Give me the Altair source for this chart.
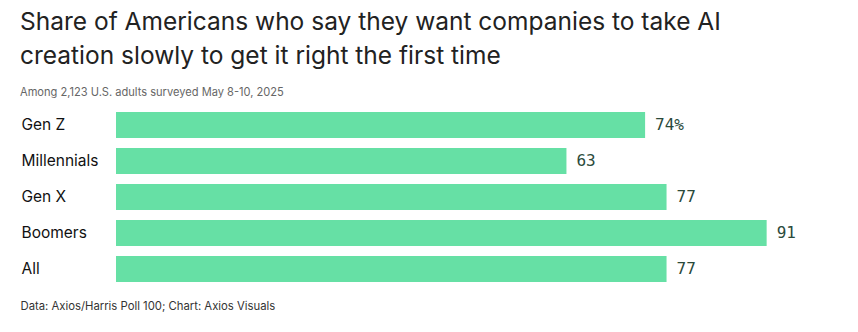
import altair as alt
import pandas as pd

categories = ["Gen Z", "Millennials", "Gen X", "Boomers", "All"]
values = [74, 63, 77, 91, 77]
value_labels = ["74%", "63", "77", "91", "77"]

title_lines = ["Share of Americans who say they want companies to take AI",
               "creation slowly to get it right the first time"]
subtitle = "Among 2,123 U.S. adults surveyed May 8-10, 2025"
footer = "Data: Axios/Harris Poll 100; Chart: Axios Visuals"

df = pd.DataFrame({"cat": categories, "val": values, "lab": value_labels})

W, H = 715, 180

y_enc = alt.Y("cat:N", sort=categories,
              scale=alt.Scale(paddingInner=0.2778, paddingOuter=0.1389),
              axis=alt.Axis(title=None, domain=False, ticks=False, labelAlign="left",
                            labelPadding=95, labelFont="Inter", labelFontSize=15.5,
                            labelColor="#111111", labelBaseline="middle"))
x_enc = alt.X("val:Q", scale=alt.Scale(domain=[0, 100], nice=False, zero=True),
              axis=alt.Axis(title=footer, grid=False, labels=False, ticks=False, domain=False,
                            titleFont="Inter", titleFontSize=11.3, titleFontWeight="normal",
                            titleColor="#333333", titleAnchor="start", titleAlign="left",
                            titleBaseline="alphabetic", titleX=-96, titleY=22))

bars = alt.Chart(df).mark_bar(color="#66E0A5").encode(y=y_enc, x=x_enc)
texts = alt.Chart(df).mark_text(align="left", baseline="middle", dx=10,
                                font="DejaVu Sans Mono", fontSize=16,
                                color="#2B4A3B").encode(
    y=alt.Y("cat:N", sort=categories), x=alt.X("val:Q"), text="lab:N")

chart = alt.layer(bars, texts).properties(
    width=W, height=H,
    autosize=alt.AutoSizeParams(type="none"),
    padding={"left": 116, "top": 107, "right": 27, "bottom": 45},
    title=alt.TitleParams(text=title_lines, subtitle=subtitle, anchor="start",
                          font="Inter", fontSize=24.5, fontWeight="normal", color="#222222",
                          lineHeight=34, subtitleFont="Inter", subtitleFontSize=11.1,
                          subtitleColor="#666666", subtitlePadding=17,
                          offset=8),
).configure_view(stroke=None)

chart.save("out.html", embed_options={"renderer": "svg", "actions": False})
